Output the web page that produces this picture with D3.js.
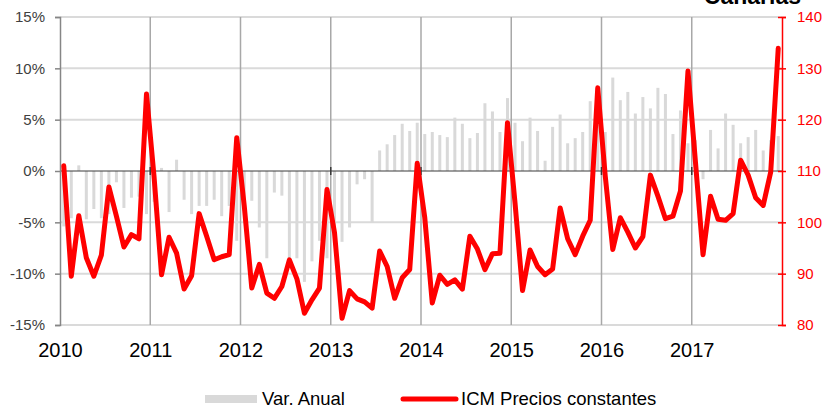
<!DOCTYPE html>
<html>
<head>
<meta charset="utf-8">
<script src="https://cdn.jsdelivr.net/npm/d3@7/dist/d3.min.js"></script>
<style>
  html, body { margin: 0; padding: 0; background: #fff; }
  svg { display: block; font-family: "Liberation Sans", Arial, sans-serif; }
</style>
</head>
<body>
<svg id="chart" width="828" height="408"></svg>
<script>
// monthly data, Jan 2010 .. Dec 2017
const years = [2010, 2011, 2012, 2013, 2014, 2015, 2016, 2017];
const months = d3.range(years.length * 12);

// Var. Anual (%), left axis
const varAnual = [
  -5.4, -4.6, 0.55, -4.7, -3.7, -4.6, -4.2, -1.1, -3.6, -2.6, -2.5, -4.2,
  -3.0, 0.3, -4.0, 1.1, -2.8, -4.2, -3.4, -3.4, -2.8, -4.4, -3.4, -6.8,
  -3.5, -2.9, -5.5, -8.5, -2.1, -2.4, -8.5, -8.5, -10.8, -8.8, -6.8, -8.5,
  -6.0, -6.9, -5.5, -1.3, -0.8, -5.0, 2.0, 2.6, 3.5, 4.6, 3.9, 4.7,
  3.6, 3.8, 3.5, 3.3, 5.2, 4.6, 3.2, 3.7, 6.6, 5.8, 3.8, 7.1,
  4.7, 2.9, 5.2, 3.9, 1.0, 4.3, 5.5, 2.7, 3.2, 3.8, 6.8, 4.5,
  3.8, 9.1, 6.9, 7.7, 5.6, 7.2, 6.1, 8.1, 7.5, 3.6, 5.9, 2.7,
  3.0, -0.8, 4.0, 2.2, 5.6, 4.5, 2.7, 3.3, 4.0, 2.0, 3.0, 3.4
];

// ICM Precios constantes, right axis
const icm = [
  111.0, 89.5, 101.3, 93.1, 89.5, 93.6, 106.9, 101.2, 95.2, 97.6, 96.8, 125.0,
  109.0, 89.8, 97.1, 94.0, 87.0, 89.6, 101.7, 97.3, 92.7, 93.3, 93.7, 116.5,
  103.2, 87.2, 91.8, 86.2, 85.2, 87.5, 92.7, 89.0, 82.3, 84.9, 87.2, 106.4,
  98.0, 81.3, 86.7, 85.1, 84.5, 83.3, 94.4, 91.4, 85.2, 89.2, 90.8, 111.5,
  100.9, 84.3, 89.7, 87.9, 88.8, 87.0, 97.3, 94.8, 90.8, 93.9, 94.0, 119.4,
  103.8, 86.7, 94.6, 91.4, 89.8, 90.9, 102.8, 96.8, 93.7, 97.3, 100.4, 126.2,
  109.0, 94.7, 100.9, 98.1, 95.0, 97.2, 109.2, 105.1, 100.7, 101.2, 106.1, 129.5,
  111.6, 93.7, 105.1, 100.6, 100.4, 101.7, 112.1, 109.2, 104.8, 103.3, 109.8, 133.9
];

const leftTicks = [-15, -10, -5, 0, 5, 10, 15];
const rightTicks = [80, 90, 100, 110, 120, 130, 140];

const svg = d3.select('#chart');
const x0 = 60, x1 = 782, yTop = 17, yBot = 325;

const x = d3.scaleBand().domain(months).range([x0, x1]).padding(0);
const xYear = d3.scaleLinear().domain([2010, 2018]).range([x0, x1]);
const yL = d3.scaleLinear().domain([-15, 15]).range([yBot, yTop]);
const yR = d3.scaleLinear().domain([80, 140]).range([yBot, yTop]);

// horizontal grid
svg.append('g')
  .selectAll('line')
  .data(leftTicks.filter(d => d !== 0))
  .join('line')
  .attr('x1', x0).attr('x2', x1)
  .attr('y1', d => yL(d)).attr('y2', d => yL(d))
  .attr('stroke', '#dadada').attr('stroke-width', 2);

// vertical year lines
svg.append('g')
  .selectAll('line')
  .data(years.slice(1))
  .join('line')
  .attr('x1', d => xYear(d)).attr('x2', d => xYear(d))
  .attr('y1', yTop).attr('y2', yBot)
  .attr('stroke', '#a8a8a8').attr('stroke-width', 1.5);

// bars
const bw = 3;
svg.append('g')
  .selectAll('rect')
  .data(months)
  .join('rect')
  .attr('x', i => x(i) + x.bandwidth() / 2 - bw / 2)
  .attr('width', bw)
  .attr('y', i => Math.min(yL(0), yL(varAnual[i])))
  .attr('height', i => Math.abs(yL(varAnual[i]) - yL(0)))
  .attr('fill', '#d9d9d9');

// zero line with year ticks
svg.append('line')
  .attr('x1', x0).attr('x2', x1)
  .attr('y1', yL(0)).attr('y2', yL(0))
  .attr('stroke', '#3a3a3a').attr('stroke-width', 1);
svg.append('g')
  .selectAll('line')
  .data(years.slice(1))
  .join('line')
  .attr('x1', d => xYear(d)).attr('x2', d => xYear(d))
  .attr('y1', yL(0) - 4).attr('y2', yL(0) + 4)
  .attr('stroke', '#3a3a3a').attr('stroke-width', 1.5);

// left axis
const gL = svg.append('g')
  .attr('transform', `translate(${x0},0)`)
  .call(d3.axisLeft(yL).tickValues(leftTicks).tickFormat(d => d + '%').tickSize(5).tickPadding(10));
gL.select('.domain').attr('stroke', '#868686').attr('stroke-width', 1.5);
gL.selectAll('.tick line').attr('stroke', '#868686').attr('stroke-width', 1.5);
gL.selectAll('text').attr('font-size', 15).attr('fill', '#404040');

// right axis
const gR = svg.append('g')
  .attr('transform', `translate(${x1},0)`)
  .call(d3.axisRight(yR).tickValues(rightTicks).tickSize(4).tickPadding(11));
gR.select('.domain').attr('stroke', '#ff0000').attr('stroke-width', 1.5);
gR.selectAll('.tick line').attr('stroke', '#ff0000').attr('stroke-width', 1.5).attr('x1', -4);
gR.selectAll('text').attr('font-size', 15).attr('fill', '#ff0000');

// year labels
const gX = svg.append('g')
  .attr('transform', `translate(0,${yBot})`)
  .call(d3.axisBottom(xYear).tickValues(years).tickFormat(d3.format('d')).tickSize(0).tickPadding(18));
gX.select('.domain').remove();
gX.selectAll('text').attr('font-size', 20).attr('fill', '#000');

// ICM line
const line = d3.line()
  .x(i => x(i) + x.bandwidth() / 2)
  .y(i => yR(icm[i]));
svg.append('path')
  .datum(months)
  .attr('d', line)
  .attr('fill', 'none')
  .attr('stroke', '#ff0000')
  .attr('stroke-width', 5)
  .attr('stroke-linejoin', 'round')
  .attr('stroke-linecap', 'round');

// title (cut at top)
svg.append('text')
  .attr('x', 801).attr('y', 4)
  .attr('text-anchor', 'end')
  .attr('font-size', 23).attr('font-weight', 'bold')
  .text('Canarias');

// legend
const lg = svg.append('g');
lg.append('rect').attr('x', 205).attr('y', 395).attr('width', 52).attr('height', 8).attr('fill', '#d9d9d9');
lg.append('text').attr('x', 262).attr('y', 405).attr('font-size', 18.5).text('Var. Anual');
lg.append('line').attr('x1', 403).attr('x2', 456).attr('y1', 399).attr('y2', 399)
  .attr('stroke', '#ff0000').attr('stroke-width', 5).attr('stroke-linecap', 'round');
lg.append('text').attr('x', 461).attr('y', 405).attr('font-size', 18.5).text('ICM Precios constantes');
</script>
</body>
</html>
